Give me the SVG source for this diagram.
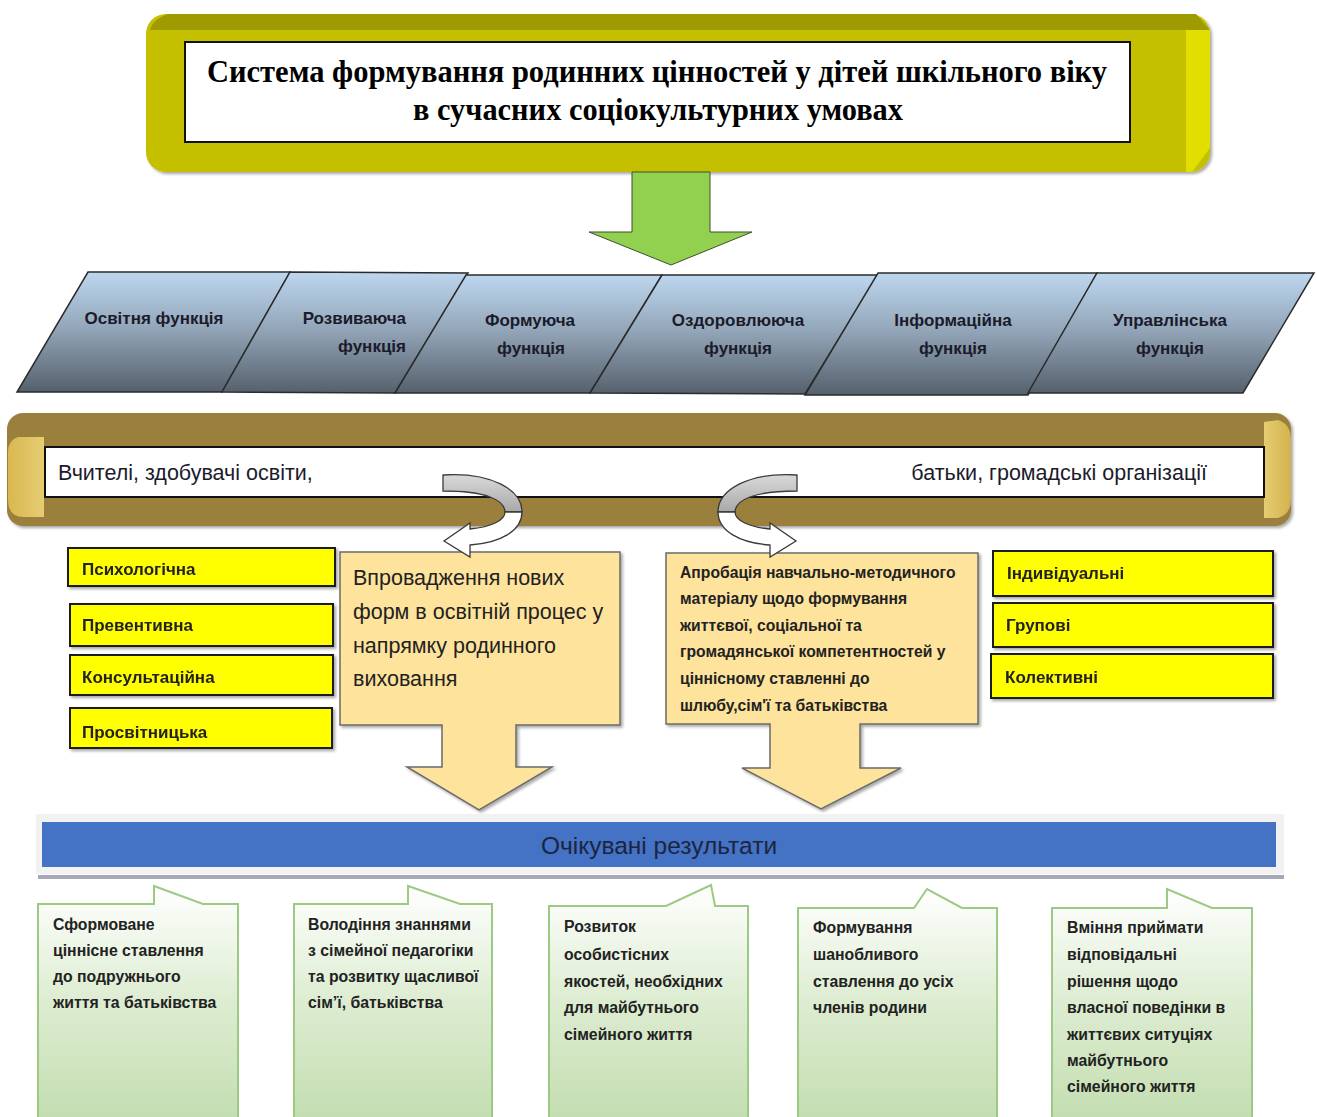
<svg xmlns="http://www.w3.org/2000/svg" width="1317" height="1117" viewBox="0 0 1317 1117">
<defs>
  <linearGradient id="para" x1="0" y1="0" x2="0" y2="1">
    <stop offset="0" stop-color="#bdd7ef"/>
    <stop offset="0.45" stop-color="#95a8bb"/>
    <stop offset="1" stop-color="#55606c"/>
  </linearGradient>
  <linearGradient id="green" x1="0" y1="0" x2="0" y2="1">
    <stop offset="0" stop-color="#ffffff"/>
    <stop offset="0.5" stop-color="#dcecd0"/>
    <stop offset="1" stop-color="#c3ddb0"/>
  </linearGradient>
  <linearGradient id="grey" x1="0" y1="0" x2="0" y2="1">
    <stop offset="0" stop-color="#d9d9d9"/>
    <stop offset="1" stop-color="#a9a9a9"/>
  </linearGradient>
  <linearGradient id="bevL" x1="0" y1="0" x2="1" y2="0">
    <stop offset="0" stop-color="#d8b850"/>
    <stop offset="1" stop-color="#e6cd72"/>
  </linearGradient>
  <linearGradient id="bevR" x1="0" y1="0" x2="1" y2="0">
    <stop offset="0" stop-color="#e6cd72"/>
    <stop offset="1" stop-color="#d2b24c"/>
  </linearGradient>
  <filter id="sh" x="-5%" y="-5%" width="115%" height="120%">
    <feDropShadow dx="2" dy="2" stdDeviation="1.5" flood-color="#000" flood-opacity="0.35"/>
  </filter>
</defs>
<style>
  .ttl{font-family:"Liberation Serif",serif;font-weight:bold;font-size:32px;fill:#000}
  .para{fill:url(#para);stroke:#2b2b2b;stroke-width:1.5}
  .pl{font-family:"Liberation Sans",sans-serif;font-weight:bold;font-size:17px;fill:#1b1b2b}
  .bt{font-family:"Liberation Sans",sans-serif;font-size:21.5px;fill:#1b1b2b}
  .yb{fill:#ffff00;stroke:#1a1a1a;stroke-width:2}
  .yt{font-family:"Liberation Sans",sans-serif;font-weight:bold;font-size:17px;fill:#222}
  .peach{fill:#fee39c;stroke:#6b6b6b;stroke-width:1.5}
  .lt{font-family:"Liberation Sans",sans-serif;font-size:21.5px;fill:#222}
  .rt{font-family:"Liberation Sans",sans-serif;font-weight:bold;font-size:15.7px;fill:#222}
  .gbox{fill:url(#green);stroke:#9dca83;stroke-width:2}
  .gt{font-family:"Liberation Sans",sans-serif;font-weight:bold;font-size:15.8px;fill:#222}
  .res{font-family:"Liberation Sans",sans-serif;font-size:24.5px;fill:#1c2540}
  .carrow{stroke:#3a3a3a;stroke-width:1.3}
</style>

<!-- Title -->
<g id="title">
  <rect x="146" y="14" width="1064" height="158" rx="20" fill="#c4c000" filter="url(#sh)"/>
  <path d="M168,14 L1196,14 L1210,30 L150,30 Q152,20 168,14 Z" fill="#9e9a00"/>
  <path d="M1186,30 L1210,30 L1210,148 L1192,172 L1186,172 Z" fill="#e2de00"/>
  <rect x="185" y="42" width="945" height="100" fill="#ffffff" stroke="#111" stroke-width="2"/>
  <text class="ttl" x="657" y="82" text-anchor="middle" textLength="900" lengthAdjust="spacingAndGlyphs">Система формування родинних цінностей у дітей шкільного віку</text>
  <text class="ttl" x="658" y="120" text-anchor="middle" textLength="490" lengthAdjust="spacingAndGlyphs">в сучасних соціокультурних умовах</text>
</g>

<!-- Functions -->
<g id="f1">
  <polygon class="para" points="88,272 290,272 222,392 17,392"/>
  <text class="pl" x="154" y="324" text-anchor="middle">Освітня функція</text>
</g>
<g id="f2">
  <polygon class="para" points="290,272 468,273 395,393 222,392"/>
  <text class="pl" x="406" y="324" text-anchor="end">Розвиваюча</text>
  <text class="pl" x="406" y="352" text-anchor="end">функція</text>
</g>
<g id="f3">
  <polygon class="para" points="466,275 662,275 590,393 395,393"/>
  <text class="pl" x="530" y="326" text-anchor="middle">Формуюча</text>
  <text class="pl" x="531" y="354" text-anchor="middle">функція</text>
</g>
<g id="f4">
  <polygon class="para" points="662,275 878,275 805,394 590,393"/>
  <text class="pl" x="738" y="326" text-anchor="middle">Оздоровлююча</text>
  <text class="pl" x="738" y="354" text-anchor="middle">функція</text>
</g>
<g id="f5">
  <polygon class="para" points="878,273 1097,273 1028,395 805,395"/>
  <text class="pl" x="953" y="326" text-anchor="middle">Інформаційна</text>
  <text class="pl" x="953" y="354" text-anchor="middle">функція</text>
</g>
<g id="f6">
  <polygon class="para" points="1097,273 1314,273 1243,393 1028,393"/>
  <text class="pl" x="1170" y="326" text-anchor="middle">Управлінська</text>
  <text class="pl" x="1170" y="354" text-anchor="middle">функція</text>
</g>

<!-- Participants band -->
<g id="participants">
  <rect x="7" y="413" width="1284" height="113" rx="16" fill="#9a7f3e" filter="url(#sh)"/>
  <path d="M18,437 L44,437 L44,517 L24,517 Q8,517 8,500 L8,452 Q8,440 18,437 Z" fill="url(#bevL)"/>
  <path d="M1264,422 L1278,420 Q1291,424 1291,440 L1291,500 Q1291,514 1278,518 L1264,518 Z" fill="url(#bevR)"/>
  <rect x="45" y="447" width="1219" height="50" fill="#ffffff" stroke="#111" stroke-width="2"/>
  <text class="bt" x="58" y="480">Вчителі, здобувачі освіти,</text>
  <text class="bt" x="1207" y="480" text-anchor="end">батьки, громадські організації</text>
</g>

<!-- Left yellow boxes -->
<g id="psych" filter="url(#sh)">
  <rect class="yb" x="68" y="548" width="267" height="38"/>
  <text class="yt" x="82" y="575">Психологічна</text>
</g>
<g id="prev" filter="url(#sh)">
  <rect class="yb" x="70" y="604" width="263" height="42"/>
  <text class="yt" x="82" y="631">Превентивна</text>
</g>
<g id="cons" filter="url(#sh)">
  <rect class="yb" x="70" y="655" width="263" height="40"/>
  <text class="yt" x="82" y="683">Консультаційна</text>
</g>
<g id="educ" filter="url(#sh)">
  <rect class="yb" x="70" y="708" width="262" height="40"/>
  <text class="yt" x="82" y="738">Просвітницька</text>
</g>

<!-- Right yellow boxes -->
<g id="indiv" filter="url(#sh)">
  <rect class="yb" x="993" y="551" width="280" height="45"/>
  <text class="yt" x="1007" y="579">Індивідуальні</text>
</g>
<g id="group" filter="url(#sh)">
  <rect class="yb" x="993" y="603" width="280" height="44"/>
  <text class="yt" x="1006" y="631">Групові</text>
</g>
<g id="coll" filter="url(#sh)">
  <rect class="yb" x="991" y="654" width="282" height="44"/>
  <text class="yt" x="1005" y="683">Колективні</text>
</g>

<!-- Callout: new forms -->
<g id="newforms">
  <path class="peach" filter="url(#sh)" d="M340,552 H620 V725 H516 V767 H552 L479,810 L407,767 H442 V725 H340 Z"/>
  <text class="lt" x="353" y="585">Впровадження нових</text>
  <text class="lt" x="353" y="619">форм в освітній процес у</text>
  <text class="lt" x="353" y="653">напрямку родинного</text>
  <text class="lt" x="353" y="686">виховання</text>
</g>

<!-- Callout: approbation -->
<g id="approb">
  <path class="peach" filter="url(#sh)" d="M666,553 H978 V724 H860 V768 H901 L821,809 L742,768 H770 V724 H666 Z"/>
  <text class="rt" x="680" y="578">Апробація навчально-методичного</text>
  <text class="rt" x="680" y="604">матеріалу щодо формування</text>
  <text class="rt" x="680" y="631">життєвої, соціальної та</text>
  <text class="rt" x="680" y="657">громадянської компетентностей у</text>
  <text class="rt" x="680" y="684">ціннісному ставленні до</text>
  <text class="rt" x="680" y="711">шлюбу,сім'ї та батьківства</text>
</g>

<!-- Expected results bar -->
<g id="results">
  <rect x="36" y="814" width="1248" height="60" fill="#f2f2f2"/>
  <rect x="38" y="875" width="1246" height="4" fill="#a3a9b8"/>
  <rect x="42" y="822" width="1234" height="45" fill="#4472c4"/>
  <text class="res" x="659" y="854" text-anchor="middle">Очікувані результати</text>
</g>

<!-- Result boxes -->
<g id="r1">
  <path class="gbox" d="M38,904 H154 V886 L203,904 H238 V1122 H38 Z"/>
  <text class="gt" x="53" y="930">Сформоване</text>
  <text class="gt" x="53" y="956">ціннісне ставлення</text>
  <text class="gt" x="53" y="982">до подружнього</text>
  <text class="gt" x="53" y="1008">життя та батьківства</text>
</g>
<g id="r2">
  <path class="gbox" d="M294,904 H408 V886 L460,904 H492 V1122 H294 Z"/>
  <text class="gt" x="308" y="930">Володіння знаннями</text>
  <text class="gt" x="308" y="956">з сімейної педагогіки</text>
  <text class="gt" x="308" y="982">та розвитку щасливої</text>
  <text class="gt" x="308" y="1008">сім’ї, батьківства</text>
</g>
<g id="r3">
  <path class="gbox" d="M549,906 H666 L711,885 L715,906 H748 V1122 H549 Z"/>
  <text class="gt" x="564" y="932">Розвиток</text>
  <text class="gt" x="564" y="960">особистісних</text>
  <text class="gt" x="564" y="987">якостей, необхідних</text>
  <text class="gt" x="564" y="1013">для майбутнього</text>
  <text class="gt" x="564" y="1040">сімейного життя</text>
</g>
<g id="r4">
  <path class="gbox" d="M798,908 H914 L927,889 L962,908 H997 V1122 H798 Z"/>
  <text class="gt" x="813" y="933">Формування</text>
  <text class="gt" x="813" y="960">шанобливого</text>
  <text class="gt" x="813" y="987">ставлення до усіх</text>
  <text class="gt" x="813" y="1013">членів родини</text>
</g>
<g id="r5">
  <path class="gbox" d="M1052,908 H1167 V889 L1212,908 H1252 V1122 H1052 Z"/>
  <text class="gt" x="1067" y="933">Вміння приймати</text>
  <text class="gt" x="1067" y="960">відповідальні</text>
  <text class="gt" x="1067" y="987">рішення щодо</text>
  <text class="gt" x="1067" y="1013">власної поведінки в</text>
  <text class="gt" x="1067" y="1040">життєвих ситуціях</text>
  <text class="gt" x="1067" y="1066">майбутнього</text>
  <text class="gt" x="1067" y="1092">сімейного життя</text>
</g>

<!-- Connectors -->
<g id="connectors">
  <path d="M632,172 H710 V232 H752 L671,265 L589,232 H632 Z" fill="#92d050" stroke="#3f4f2a" stroke-width="1"/>
  <g id="curveL">
    <path class="carrow" fill="url(#grey)" d="M443,475 C492,472 522,490 522,512 L505,512 C505,500 486,491 443,491 Z"/>
    <path class="carrow" fill="#ffffff" d="M522,512 C522,531 500,543 470,545 L470,557 L444,541 L470,523 L470,529 C492,527 505,520 505,512 Z"/>
  </g>
  <g id="curveR" transform="translate(1240,0) scale(-1,1)">
    <path class="carrow" fill="url(#grey)" d="M443,475 C492,472 522,490 522,512 L505,512 C505,500 486,491 443,491 Z"/>
    <path class="carrow" fill="#ffffff" d="M522,512 C522,531 500,543 470,545 L470,557 L444,541 L470,523 L470,529 C492,527 505,520 505,512 Z"/>
  </g>
</g>
</svg>
